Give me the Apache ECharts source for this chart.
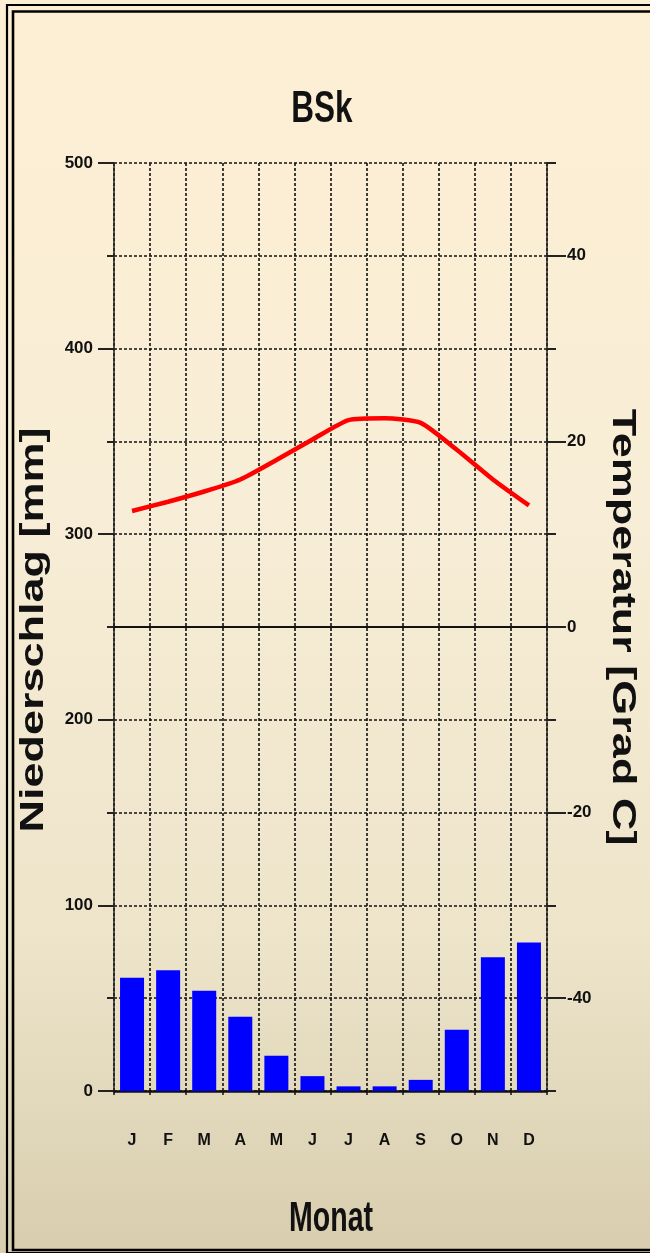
<!DOCTYPE html>
<html><head><meta charset="utf-8">
<script src="https://cdn.jsdelivr.net/npm/echarts@6/dist/echarts.min.js"></script>
<style>
html,body{margin:0;padding:0;}
#c{width:650px;height:1253px;background:linear-gradient(to bottom,#fdefd4 0%,#f8edd6 40%,#ede4ca 75%,#d8cdae 100%);}
</style>
</head><body><div id="c"></div>
<script>
const months = ['J','F','M','A','M','J','J','A','S','O','N','D'];
const precipitation = [61, 65, 54, 40, 19, 8, 2.5, 2.5, 6, 33, 72, 80];
const temperature = [12.5, 13.5, 14.6, 15.9, 18.0, 20.2, 22.3, 22.5, 22.0, 19.1, 15.9, 13.1];
const chartTitle = 'BSk';
const precipAxisName = 'Niederschlag [mm]';
const tempAxisName = 'Temperatur [Grad C]';
const monthAxisName = 'Monat';

const labelFont = '"Liberation Sans",Arial,sans-serif';
const wide = '"Liberation Sans",Arial,sans-serif';
const dash = {color:'#111', width:1.6, type:[3,2]};

const chart = echarts.init(document.getElementById('c'), null, {renderer:'canvas'});
chart.setOption({
  animation:false,
  backgroundColor:'transparent',
  grid:[
    {left:114, right:103, top:163, bottom:162, containLabel:false},
    {left:114, right:103, top:255.8, bottom:254.8, containLabel:false}
  ],
  xAxis:[
    {type:'category', gridIndex:0, data:months, boundaryGap:true,
     axisLine:{show:true, lineStyle:{color:'#111', width:2.5}},
     axisTick:{show:true, length:4, interval:0, lineStyle:{color:'#111', width:1.5}},
     axisLabel:{show:true, interval:0, margin:42, color:'#111', fontSize:16, fontWeight:'bold', fontFamily:labelFont},
     splitLine:{show:true, interval:0, lineStyle:dash}},
    {type:'category', gridIndex:1, data:months, show:false}
  ],
  yAxis:[
    {type:'value', gridIndex:0, position:'left', min:0, max:500, interval:100,
     axisLine:{show:true, lineStyle:{color:'#222', width:1.5}},
     axisTick:{show:true, length:16, lineStyle:{color:'#222', width:2}},
     minorTick:{show:true, splitNumber:2, length:7, lineStyle:{color:'#222', width:2}},
     axisLabel:{show:true, margin:21, color:'#111', fontSize:17, fontWeight:'bold', fontFamily:labelFont},
     splitLine:{show:true, lineStyle:dash},
     minorSplitLine:{show:true, lineStyle:dash}},
    {type:'value', gridIndex:0, position:'right', min:-50, max:50, interval:10,
     axisLine:{show:true, lineStyle:{color:'#222', width:1.5}},
     axisTick:{show:true, length:9, lineStyle:{color:'#222', width:2}},
     axisLabel:{show:true, margin:20, color:'#111', fontSize:17, fontWeight:'bold', fontFamily:labelFont,
       formatter:function(v){return v % 20 === 0 ? String(v) : '';}},
     splitLine:{show:false}},
    {type:'value', gridIndex:1, position:'right', min:-40, max:40, interval:20,
     axisLine:{show:false},
     axisTick:{show:true, length:19, lineStyle:{color:'#222', width:2}},
     axisLabel:{show:false},
     splitLine:{show:false}}
  ],
  series:[
    {name:'Niederschlag', type:'bar', xAxisIndex:0, yAxisIndex:0, data:precipitation,
     barWidth:24, itemStyle:{color:'#0000ff'}, z:3},
    {name:'Temperatur', type:'line', xAxisIndex:0, yAxisIndex:1, data:temperature,
     smooth:0.2, showSymbol:false, symbol:'none',
     lineStyle:{color:'#ff0000', width:4.5}, z:4,
     markLine:{silent:true, symbol:['none','none'], label:{show:false},
       lineStyle:{color:'#111', width:2, type:'solid'},
       data:[{yAxis:0}]}}
  ],
  graphic:[
    {type:'rect', shape:{x:7, y:5, width:700, height:1248}, style:{fill:null, stroke:'#000', lineWidth:2.2}, z:100},
    {type:'rect', shape:{x:13, y:11.5, width:700, height:1238.5}, style:{fill:null, stroke:'#000', lineWidth:2.6}, z:100},
    {type:'text', x:322, y:110, scaleX:0.7, scaleY:1,
     style:{text:chartTitle, fill:'#111', fontSize:45, fontWeight:'bold', fontFamily:wide, align:'center', verticalAlign:'middle'}},
    {type:'text', x:331, y:1219, scaleX:0.68, scaleY:1,
     style:{text:monthAxisName, fill:'#111', fontSize:42, fontWeight:'bold', fontFamily:wide, align:'center', verticalAlign:'middle'}},
    {type:'text', x:34, y:630, rotation:Math.PI/2, scaleX:1, scaleY:0.72,
     style:{text:precipAxisName, fill:'#111', fontSize:45, fontWeight:'bold', fontFamily:wide, align:'center', verticalAlign:'middle'}},
    {type:'text', x:622, y:627, rotation:-Math.PI/2, scaleX:1, scaleY:0.75,
     style:{text:tempAxisName, fill:'#111', fontSize:45, fontWeight:'bold', fontFamily:wide, align:'center', verticalAlign:'middle'}}
  ]
});
</script>
</body></html>
